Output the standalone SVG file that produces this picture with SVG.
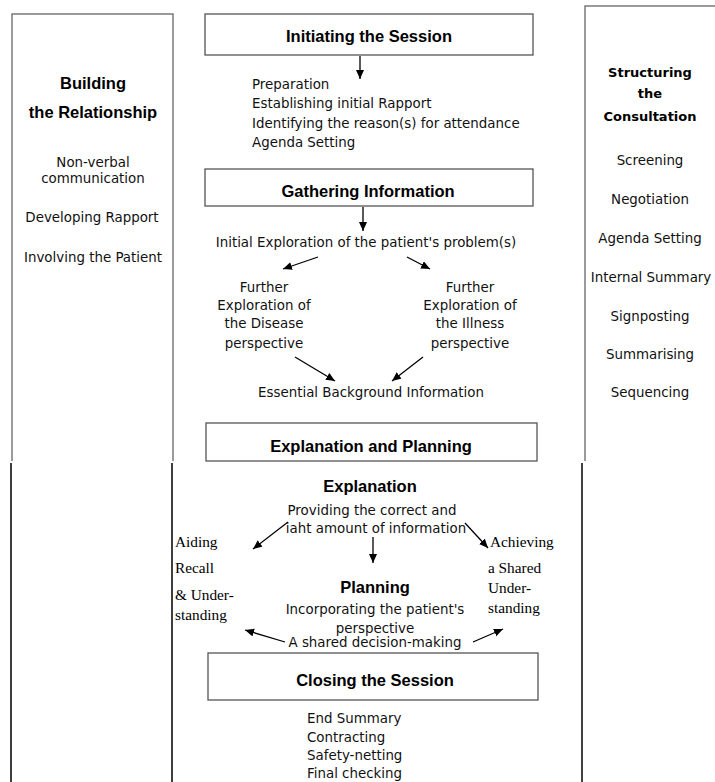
<svg xmlns="http://www.w3.org/2000/svg" width="715" height="782" viewBox="0 0 715 782">
<style>
.frame{fill:none;stroke:#7a7a7a;stroke-width:1.5}
.blk{fill:none;stroke:#000;stroke-width:1.5}
.box{fill:#fff;stroke:#555;stroke-width:1.3}
.hd{font-family:"Liberation Sans",Arial,sans-serif;font-weight:bold;font-size:16.5px;fill:#000;text-anchor:middle}
.cm{font-family:"DejaVu Sans","Noto Sans",sans-serif;font-size:13.4px;fill:#111}
.cmb{font-family:"DejaVu Sans","Noto Sans",sans-serif;font-size:13px;font-weight:bold;fill:#000;text-anchor:middle}
.mid{text-anchor:middle}
.sf{font-family:"Liberation Serif","Times New Roman",serif;font-size:15.3px;fill:#000}
.con{stroke:#000;stroke-width:1.3;fill:none;marker-end:url(#ah)}
</style>
<defs>
<marker id="ah" markerUnits="userSpaceOnUse" markerWidth="10" markerHeight="10" refX="9" refY="4" orient="auto">
<path d="M0,0 L9,4 L0,8 Z" fill="#000"/>
</marker>
</defs>
<rect width="715" height="782" fill="#fff"/>

<g id="building-relationship">
<path class="frame" d="M12,461 V14 H173 V461"/>
<path class="blk" d="M11,463 V782 M172,463 V782"/>
<text class="hd" x="93" y="89">Building</text>
<text class="hd" x="93" y="118">the Relationship</text>
<text class="cm mid" x="93" y="166.5">Non-verbal</text>
<text class="cm mid" x="93" y="182.5">communication</text>
<text class="cm mid" x="92" y="221.5">Developing Rapport</text>
<text class="cm mid" x="93" y="261.5">Involving the Patient</text>
</g>

<g id="structuring-consultation">
<path class="frame" d="M715,6 H585 V461"/>
<path class="blk" d="M582,463 V782"/>
<text class="cmb" x="650" y="77">Structuring</text>
<text class="cmb" x="650" y="98">the</text>
<text class="cmb" x="650" y="121">Consultation</text>
<text class="cm mid" x="650" y="165">Screening</text>
<text class="cm mid" x="650" y="204">Negotiation</text>
<text class="cm mid" x="650" y="243">Agenda Setting</text>
<text class="cm mid" x="651" y="282">Internal Summary</text>
<text class="cm mid" x="650" y="321">Signposting</text>
<text class="cm mid" x="650" y="359">Summarising</text>
<text class="cm mid" x="650" y="397">Sequencing</text>
</g>

<g id="initiating">
<rect class="box" x="205" y="14" width="328" height="41"/>
<text class="hd" x="369" y="42">Initiating the Session</text>
<text class="cm" x="252" y="88.5">Preparation</text>
<text class="cm" x="252" y="108">Establishing initial Rapport</text>
<text class="cm" x="252" y="127.5">Identifying the reason(s) for attendance</text>
<text class="cm" x="252" y="147">Agenda Setting</text>
</g>

<g id="gathering">
<rect class="box" x="205" y="169" width="328" height="37"/>
<text class="hd" x="368" y="197">Gathering Information</text>
<text class="cm mid" x="366" y="246.5">Initial Exploration of the patient's problem(s)</text>
<text class="cm mid" x="264" y="291.5">Further</text>
<text class="cm mid" x="264" y="309.5">Exploration of</text>
<text class="cm mid" x="264" y="327.5">the Disease</text>
<text class="cm mid" x="264" y="347.5">perspective</text>
<text class="cm mid" x="470" y="291.5">Further</text>
<text class="cm mid" x="470" y="309.5">Exploration of</text>
<text class="cm mid" x="470" y="327.5">the Illness</text>
<text class="cm mid" x="470" y="347.5">perspective</text>
<text class="cm mid" x="371" y="396.5">Essential Background Information</text>
</g>

<g id="explanation-planning">
<rect class="box" x="206" y="423" width="331" height="38"/>
<text class="hd" x="371" y="452">Explanation and Planning</text>
<text class="hd" x="370" y="492">Explanation</text>
<text class="cm mid" x="372" y="514.5">Providing the correct and</text>
<text class="cm mid" x="376" y="532.5">iaht amount of information</text>
<text class="sf" x="175" y="547">Aiding</text>
<text class="sf" x="175" y="573">Recall</text>
<text class="sf" x="175" y="600">&amp; Under-</text>
<text class="sf" x="175" y="620">standing</text>
<text class="sf" x="490" y="547">Achieving</text>
<text class="sf" x="488" y="573">a Shared</text>
<text class="sf" x="488" y="593">Under-</text>
<text class="sf" x="488" y="613">standing</text>
<text class="hd" x="375" y="593">Planning</text>
<text class="cm mid" x="375" y="613.5">Incorporating the patient's</text>
<text class="cm mid" x="375" y="632.5">perspective</text>
<text class="cm mid" x="375" y="647">A shared decision-making</text>
</g>

<g id="closing">
<rect class="box" x="208" y="653" width="330" height="47"/>
<text class="hd" x="375" y="686">Closing the Session</text>
<text class="cm" x="307" y="722.5">End Summary</text>
<text class="cm" x="307" y="741.5">Contracting</text>
<text class="cm" x="307" y="759.5">Safety-netting</text>
<text class="cm" x="307" y="777.5">Final checking</text>
</g>

<g id="connectors">
<line class="con" x1="360" y1="56" x2="360" y2="79"/>
<line class="con" x1="363" y1="207" x2="363" y2="231"/>
<line class="con" x1="318" y1="257" x2="283" y2="269"/>
<line class="con" x1="407" y1="257" x2="430" y2="269"/>
<line class="con" x1="295" y1="357" x2="335" y2="381"/>
<line class="con" x1="423" y1="357" x2="392" y2="381"/>
<line class="con" x1="288" y1="522" x2="253" y2="549"/>
<line class="con" x1="373" y1="537" x2="373" y2="563"/>
<line class="con" x1="465" y1="523" x2="488" y2="548"/>
<line class="con" x1="285" y1="642" x2="245" y2="630"/>
<line class="con" x1="473" y1="642" x2="503" y2="629"/>
</g>
</svg>
